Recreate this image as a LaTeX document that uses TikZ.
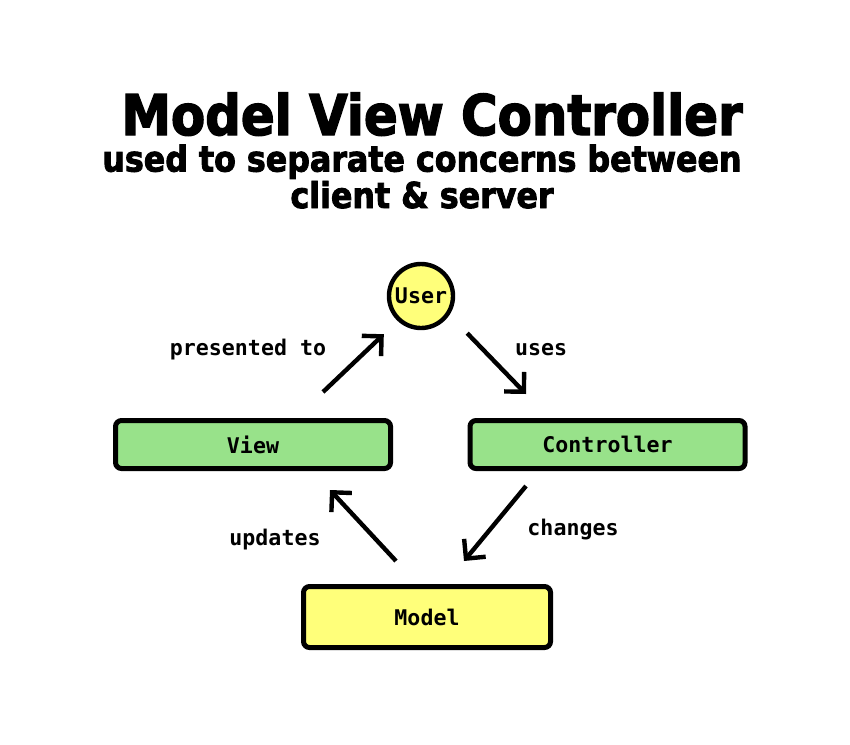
\documentclass[tikz,border=0pt]{standalone}
\usepackage{fontspec}
\setmonofont{DejaVu Sans Mono}
\newfontfamily\headfont[FakeStretch=0.89, BoldFeatures={FakeBold=2.5}]{DejaVu Sans}
\usetikzlibrary{arrows.meta,calc}

\definecolor{boxgreen}{RGB}{152,226,138}
\definecolor{boxyellow}{RGB}{255,255,122}

\tikzset{
  part/.style = {draw, line width=2.5pt, rounded corners=3pt, inner sep=0pt,
                 font=\ttfamily\bfseries\fontsize{10.8}{13}\selectfont},
  flow/.style = {line width=2.2pt, -{Straight Barb[length=7pt,width=14pt]}},
  arrowtext/.style = {anchor=base, inner sep=0pt,
                      font=\ttfamily\bfseries\fontsize{10.8}{13}\selectfont}
}

\begin{document}
\begin{tikzpicture}[x=0.5pt, y=-0.5pt]
    % Frame of the page
    \useasboundingbox (0,0) rectangle (850,744);

    % Headings
    \node[anchor=base, inner sep=0pt, font=\headfont\bfseries\fontsize{28}{30}\selectfont]
        (title) at (432,135) {Model View Controller};
    \node[anchor=base, inner sep=0pt, align=center,
          font=\headfont\bfseries\fontsize{17.8}{15}\selectfont]
        (subtitle) at (422,208) {used to separate concerns between\\client \& server};

    % The three parts and the user
    \node[part, circle, line width=2.2pt, fill=boxyellow, minimum size=32pt] (user) at (421,296) {User};
    \node[part, fill=boxgreen, minimum width=137.5pt, minimum height=24pt] (view) at (253,444.5) {View};
    \node[part, fill=boxgreen, minimum width=137.5pt, minimum height=24pt] (controller) at (607.5,444.5) {Controller};
    \node[part, fill=boxyellow, minimum width=123.5pt, minimum height=30.5pt] (model) at (427,617) {Model};

    % Arrows between them
    \draw[flow] ($(view.north)+(70,-26)$) -- ($(user.south west)+(-13,14)$);
    \draw[flow] ($(user.south east)+(22,13)$) -- ($(controller.north)+(-81.5,-24)$);
    \draw[flow] ($(controller.south)+(-81.5,15)$) -- ($(model.north)+(37,-23)$);
    \draw[flow] ($(model.north)+(-31,-23)$) -- ($(view.south)+(77,19)$);

    % Labels of the arrows
    \node[arrowtext] (presented) at (248,355) {presented to};
    \node[arrowtext] (uses) at (541,355) {uses};
    \node[arrowtext] (changes) at (573,535) {changes};
    \node[arrowtext] (updates) at (275,545) {updates};
\end{tikzpicture}
\end{document}
